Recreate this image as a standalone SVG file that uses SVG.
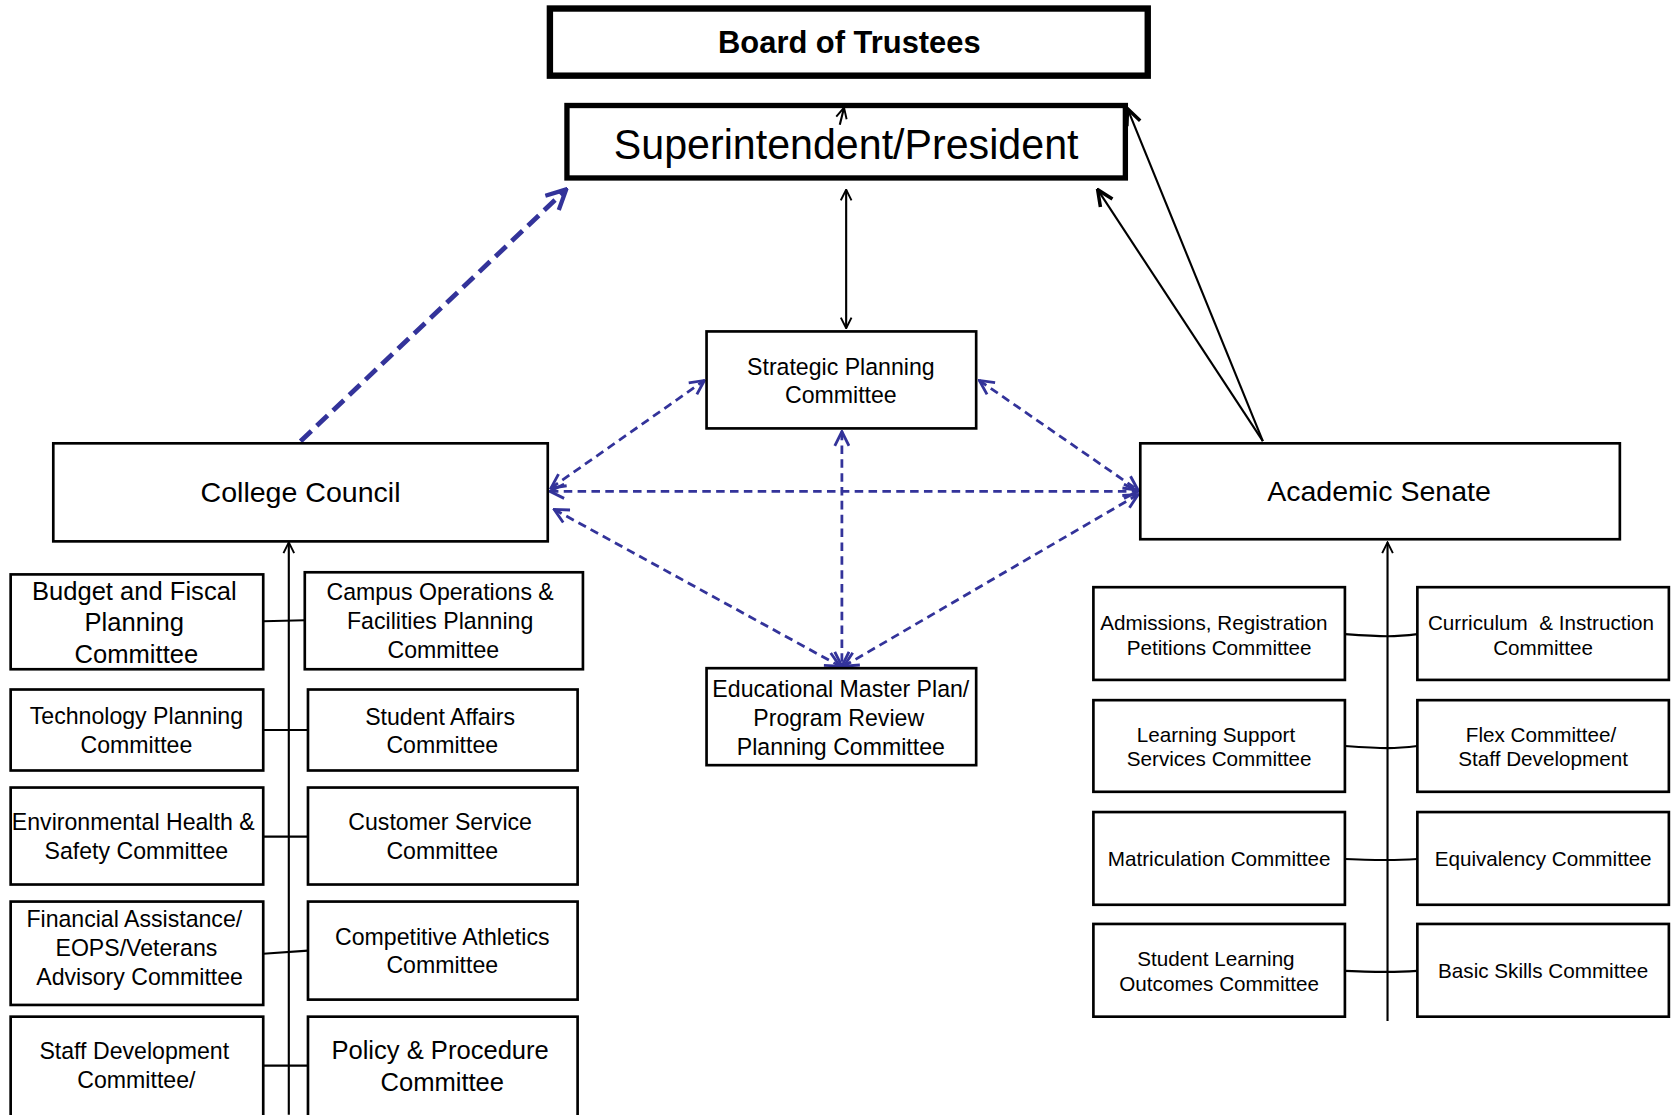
<svg xmlns="http://www.w3.org/2000/svg" width="1671" height="1115" viewBox="0 0 1671 1115">
<style>
text{font-family:"Liberation Sans",Arial,sans-serif;fill:#000;text-anchor:middle}
.box{fill:#fff;stroke:#000;stroke-width:2.5}
.t20{font-size:21.7px}
.t18{font-size:19.4px}
.t24{font-size:24px}
.t26{font-size:26.8px}
.blk{stroke:#000;stroke-width:2;fill:none}
.bd{stroke:#33339a;stroke-width:2.6;fill:none;stroke-dasharray:8 5}
.bdt{stroke:#33339a;stroke-width:4.5;fill:none;stroke-dasharray:14 7}
</style>
<defs>
<marker id="ab" viewBox="0 0 12 12" refX="11" refY="6" markerWidth="12" markerHeight="12" markerUnits="userSpaceOnUse" orient="auto-start-reverse">
<path d="M1,1 L11,6 L1,11" fill="none" stroke="#000" stroke-width="1.8"/>
</marker>
<marker id="abb" viewBox="0 0 12 12" refX="11" refY="6" markerWidth="18" markerHeight="18" markerUnits="userSpaceOnUse" orient="auto">
<path d="M1,1.5 L11,6 L1,10.5" fill="none" stroke="#000" stroke-width="2.2"/>
</marker>
<marker id="abl" viewBox="0 0 12 12" refX="11" refY="6" markerWidth="16" markerHeight="16" markerUnits="userSpaceOnUse" orient="auto-start-reverse">
<path d="M1,1 L11,6 L1,11" fill="none" stroke="#33339a" stroke-width="2"/>
</marker>
<marker id="ablt" viewBox="0 0 12 12" refX="10" refY="6" markerWidth="22" markerHeight="22" markerUnits="userSpaceOnUse" orient="auto">
<path d="M1,1 L11,6 L1,11" fill="none" stroke="#33339a" stroke-width="2.2"/>
</marker>
</defs>
<rect width="1671" height="1115" fill="#fff"/>
<g transform="scale(1.06569)">
<g id="connectors">
<line class="blk" x1="794" y1="178" x2="794" y2="308" marker-start="url(#ab)" marker-end="url(#ab)"/>
<line class="bdt" x1="282" y1="414" x2="530" y2="179" marker-end="url(#ablt)"/>
<line class="blk" x1="1185" y1="414" x2="1030" y2="178" marker-end="url(#abb)"/>
<line class="blk" x1="1185" y1="414" x2="1058" y2="102" marker-end="url(#abb)"/>
<line class="bd" x1="516" y1="461" x2="1068" y2="461" marker-start="url(#abl)" marker-end="url(#abl)"/>
<line class="bd" x1="517" y1="458" x2="661" y2="357" marker-start="url(#abl)" marker-end="url(#abl)"/>
<line class="bd" x1="520" y1="478" x2="788" y2="625" marker-start="url(#abl)" marker-end="url(#abl)"/>
<line class="bd" x1="790" y1="405" x2="790" y2="625" marker-start="url(#abl)" marker-end="url(#abl)"/>
<line class="bd" x1="919" y1="357" x2="1068" y2="460" marker-start="url(#abl)" marker-end="url(#abl)"/>
<line class="bd" x1="1068" y1="464" x2="792" y2="625" marker-start="url(#abl)" marker-end="url(#abl)"/>
<line class="blk" x1="271" y1="1046" x2="271" y2="509" marker-end="url(#ab)"/>
<line class="blk" x1="247" y1="583" x2="286" y2="582"/>
<line class="blk" x1="247" y1="685" x2="289" y2="685"/>
<line class="blk" x1="247" y1="785" x2="289" y2="785"/>
<line class="blk" x1="247" y1="895" x2="289" y2="892"/>
<line class="blk" x1="247" y1="1000" x2="289" y2="1000"/>
<line class="blk" x1="1302" y1="958" x2="1302" y2="509" marker-end="url(#ab)"/>
<path class="blk" d="M1262,595 Q1290,597 1302,597 Q1314,597 1330,595"/>
<path class="blk" d="M1262,700 Q1290,702 1302,702 Q1314,702 1330,700"/>
<path class="blk" d="M1262,806 Q1290,807 1302,807 Q1314,807 1330,806"/>
<path class="blk" d="M1262,911 Q1290,912 1302,912 Q1314,912 1330,911"/>
</g>
<g id="board"><rect x="516" y="8" width="561" height="63" fill="#fff" stroke="#000" stroke-width="6"/><text x="797" y="50" style="font-size:29px;font-weight:bold">Board of Trustees</text></g>
<g id="president"><rect x="532" y="99" width="524" height="68" fill="#fff" stroke="#000" stroke-width="5"/><text x="794" y="149" style="font-size:40px" textLength="436" lengthAdjust="spacingAndGlyphs">Superintendent/President</text></g>
<line class="blk" x1="788" y1="117" x2="792" y2="101" marker-end="url(#ab)"/>
<g id="strategic"><rect class="box" x="663" y="311" width="253" height="91"/><text class="t20" x="789" y="352">Strategic Planning</text><text class="t20" x="789" y="378">Committee</text></g>
<g id="council"><rect class="box" x="50" y="416" width="464" height="92"/><text class="t26" x="282" y="471">College Council</text></g>
<g id="senate"><rect class="box" x="1070" y="416" width="450" height="90"/><text class="t26" x="1294" y="470">Academic Senate</text></g>
<g id="emp"><rect class="box" x="663" y="627" width="253" height="91"/><text class="t20" x="789" y="654">Educational Master Plan/</text><text class="t20" x="787" y="681">Program Review</text><text class="t20" x="789" y="708">Planning Committee</text></g>
<g id="budget"><rect class="box" x="10" y="539" width="237" height="89"/><text class="t24" x="126" y="563">Budget and Fiscal</text><text class="t24" x="126" y="592">Planning</text><text class="t24" x="128" y="622">Committee</text></g>
<g id="tech"><rect class="box" x="10" y="647" width="237" height="76"/><text class="t20" x="128" y="679">Technology Planning</text><text class="t20" x="128" y="707">Committee</text></g>
<g id="env"><rect class="box" x="10" y="739" width="237" height="91"/><text class="t20" x="125" y="779">Environmental Health &amp;</text><text class="t20" x="128" y="806">Safety Committee</text></g>
<g id="fin"><rect class="box" x="10" y="846" width="237" height="97"/><text class="t20" x="126" y="870">Financial Assistance/</text><text class="t20" x="128" y="897">EOPS/Veterans</text><text class="t20" x="131" y="924">Advisory Committee</text></g>
<g id="staffdev"><rect class="box" x="10" y="954" width="237" height="100"/><text class="t20" x="126" y="994">Staff Development</text><text class="t20" x="128" y="1021">Committee/</text></g>
<g id="campus"><rect class="box" x="286" y="537" width="261" height="91"/><text class="t20" x="413" y="563">Campus Operations &amp;</text><text class="t20" x="413" y="590">Facilities Planning</text><text class="t20" x="416" y="617">Committee</text></g>
<g id="affairs"><rect class="box" x="289" y="647" width="253" height="76"/><text class="t20" x="413" y="680">Student Affairs</text><text class="t20" x="415" y="707">Committee</text></g>
<g id="customer"><rect class="box" x="289" y="739" width="253" height="91"/><text class="t20" x="413" y="779">Customer Service</text><text class="t20" x="415" y="806">Committee</text></g>
<g id="athletics"><rect class="box" x="289" y="846" width="253" height="92"/><text class="t20" x="415" y="887">Competitive Athletics</text><text class="t20" x="415" y="913">Committee</text></g>
<g id="policy"><rect class="box" x="289" y="954" width="253" height="100"/><text class="t24" x="413" y="994">Policy &amp; Procedure</text><text class="t24" x="415" y="1024">Committee</text></g>
<g id="admissions"><rect class="box" x="1026" y="551" width="236" height="87"/><text class="t18" x="1139" y="591">Admissions, Registration</text><text class="t18" x="1144" y="615">Petitions Committee</text></g>
<g id="learning"><rect class="box" x="1026" y="657" width="236" height="86"/><text class="t18" x="1141" y="696">Learning Support</text><text class="t18" x="1144" y="719">Services Committee</text></g>
<g id="matric"><rect class="box" x="1026" y="762" width="236" height="87"/><text class="t18" x="1144" y="813">Matriculation Committee</text></g>
<g id="slo"><rect class="box" x="1026" y="867" width="236" height="87"/><text class="t18" x="1141" y="906">Student Learning</text><text class="t18" x="1144" y="930">Outcomes Committee</text></g>
<g id="curriculum"><rect class="box" x="1330" y="551" width="236" height="87"/><text class="t18" x="1446" y="591" xml:space="preserve">Curriculum  &amp; Instruction</text><text class="t18" x="1448" y="615">Committee</text></g>
<g id="flex"><rect class="box" x="1330" y="657" width="236" height="86"/><text class="t18" x="1446" y="696">Flex Committee/</text><text class="t18" x="1448" y="719">Staff Development</text></g>
<g id="equiv"><rect class="box" x="1330" y="762" width="236" height="87"/><text class="t18" x="1448" y="813">Equivalency Committee</text></g>
<g id="basic"><rect class="box" x="1330" y="867" width="236" height="87"/><text class="t18" x="1448" y="918">Basic Skills Committee</text></g>
</g>
</svg>
